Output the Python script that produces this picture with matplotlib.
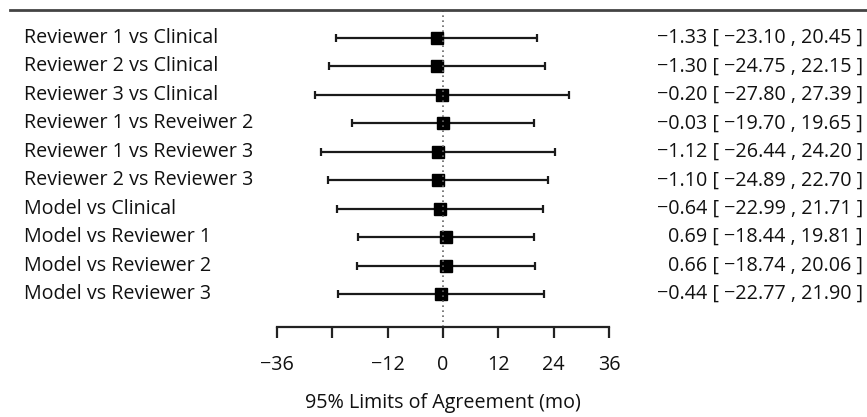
import matplotlib
matplotlib.use("Agg")
import matplotlib.pyplot as plt
from matplotlib.lines import Line2D
from matplotlib.transforms import blended_transform_factory

plt.rcParams['font.family'] = ['Open Sans', 'DejaVu Sans']

# comparisons and their bias / 95% limits of agreement (months)
labels = ["Reviewer 1 vs Clinical", "Reviewer 2 vs Clinical", "Reviewer 3 vs Clinical",
          "Reviewer 1 vs Reveiwer 2", "Reviewer 1 vs Reviewer 3", "Reviewer 2 vs Reviewer 3",
          "Model vs Clinical", "Model vs Reviewer 1", "Model vs Reviewer 2", "Model vs Reviewer 3"]
bias = [-1.33, -1.30, -0.20, -0.03, -1.12, -1.10, -0.64, 0.69, 0.66, -0.44]
lower = [-23.10, -24.75, -27.80, -19.70, -26.44, -24.89, -22.99, -18.44, -18.74, -22.77]
upper = [20.45, 22.15, 27.39, 19.65, 24.20, 22.70, 21.71, 19.81, 20.06, 21.90]
xticks = [-36, -24, -12, 0, 12, 24, 36]
xticklabels = ["\u221236", "", "\u221212", "0", "12", "24", "36"]

W, H = 867, 417
fs = 14.2
fig = plt.figure(figsize=(W / 100, H / 100), dpi=100)
ax = fig.add_axes([277 / W, (H - 327) / H, 332 / W, 317 / H])

rows = list(range(len(labels)))
xerr = [[b - l for b, l in zip(bias, lower)], [u - b for b, u in zip(bias, upper)]]
ax.errorbar(bias, rows, xerr=xerr, fmt='none', ecolor='#1a1a1a', elinewidth=1.6,
            capsize=3, capthick=1.6)
ax.plot(bias, rows, 's', color='black', markersize=8.5)
ax.axvline(0, color='#666666', ls=(0, (1, 2)), lw=1.2)

ax.set_xlim(-36, 36)
ax.set_ylim(10.16, -0.985)
ax.set_xticks(xticks)
ax.set_xticklabels(xticklabels, fontsize=fs, color='#111111')
ax.tick_params(axis='x', direction='out', length=8, width=1.6, pad=12, color='#222222')
ax.set_yticks([])
for s in ['top', 'left', 'right']:
    ax.spines[s].set_visible(False)
ax.spines['bottom'].set_linewidth(1.6)
ax.spines['bottom'].set_color('#222222')
ax.set_xlabel("95% Limits of Agreement (mo)", fontsize=fs, labelpad=13, color='#111111')

# top rule across the figure
fig.add_artist(Line2D([10 / W, 1], [(H - 10) / H] * 2, transform=fig.transFigure,
                      color='#444444', lw=2))

tr = blended_transform_factory(fig.transFigure, ax.transData)
for i, lab in enumerate(labels):
    fig.text(24 / W, i, lab, transform=tr, ha='left', va='center', fontsize=fs,
             color='#111111')
    txt = "%s [ %s , %s ]" % (("%.2f" % bias[i]).replace('-', '\u2212'),
                              ("%.2f" % lower[i]).replace('-', '\u2212'),
                              ("%.2f" % upper[i]).replace('-', '\u2212'))
    fig.text(863 / W, i, txt, transform=tr, ha='right', va='center', fontsize=fs,
             color='#111111')

fig.savefig("out.png", dpi=100)
